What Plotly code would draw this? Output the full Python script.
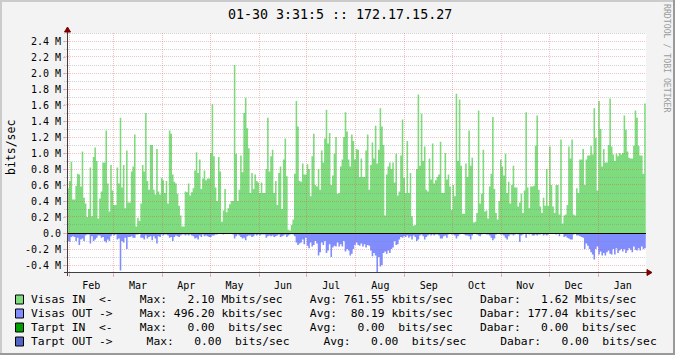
import pandas as pd
import plotly.graph_objects as go

# ---------------- data ----------------
TITLE = "01-30 3:31:5 :: 172.17.15.27"
WATERMARK = "RRDTOOL / TOBI OETIKER"
Y_AXIS_LABEL = "bits/sec"
FIRST_DAY = "2015-01-31"
X_RANGE = ["2015-01-30 17:30", "2016-01-31 03:30"]
Y_RANGE_M = [-0.5, 2.5]

# daily averages, Mbit/s
VISAS_IN_M = [
    0.56, 0.65, 0.89, 0.42, 0.42, 0.59, 0.74, 0.73, 0.58, 1.02,
    0.44, 0.37, 0.20, 0.30, 0.82, 0.21, 0.95, 1.07, 0.90, 0.18,
    0.43, 0.52, 0.88, 0.88, 1.28, 0.62, 0.27, 0.85, 0.53, 0.35,
    0.35, 0.82, 0.62, 1.44, 0.57, 0.85, 0.31, 1.03, 0.38, 0.38,
    0.77, 0.83, 1.23, 0.08, 0.19, 0.15, 0.37, 0.85, 0.77, 1.50,
    0.65, 0.54, 1.10, 1.10, 0.54, 0.48, 1.05, 0.52, 0.48, 0.69,
    0.66, 0.50, 0.65, 0.37, 1.28, 1.24, 0.73, 0.64, 0.62, 0.49,
    0.34, 0.22, 0.08, 0.08,
    0.52, 0.51, 0.62, 0.47, 0.51, 0.56, 0.78, 1.01, 0.75, 0.92,
    0.55, 0.68, 0.78, 0.66, 0.68, 0.68, 1.00, 1.61, 0.96, 0.57,
    0.40, 0.95, 0.77, 0.14, 0.28, 0.55, 0.26, 0.31, 0.36, 0.40,
    0.40, 2.10, 0.99, 0.40, 0.54, 0.97, 0.76, 1.50, 1.69, 1.31,
    1.06, 0.50, 0.75, 0.55, 0.73, 0.65, 0.63, 0.50, 0.63, 0.50,
    0.50, 0.80, 1.44, 0.77, 0.96, 1.04, 0.50, 0.65, 0.35, 0.75,
    0.83, 0.30, 0.92, 1.18, 0.71, 0.04, 0.03, 0.10, 0.17, 0.74,
    1.65, 1.33, 0.65,
    0.64, 0.87, 0.73, 0.73, 0.86, 0.80, 0.46, 0.96, 1.24, 0.60,
    0.58, 0.80, 0.54, 1.03, 0.88, 1.18, 1.54, 1.12, 1.25, 0.60,
    0.72, 0.99, 1.20, 0.49, 0.50, 0.83, 0.92, 1.20, 1.51, 1.27,
    0.92, 0.83, 1.23, 1.15, 0.92, 1.05, 1.04, 0.70, 0.93, 0.70,
    0.70, 1.03, 1.23, 0.54, 0.85, 1.13, 0.93, 1.34, 0.87, 1.04,
    1.56, 1.33, 1.10, 0.22, 0.73, 0.83, 0.88, 0.80, 0.88, 0.63,
    0.99, 0.47, 0.52, 0.97, 1.42, 0.69, 0.50, 1.15, 0.50, 0.75,
    0.21, 0.09, 0.10,
    0.80, 1.73, 0.84, 1.49, 0.90, 1.08, 0.54, 0.52, 0.93, 0.67,
    1.12, 0.62, 0.66, 0.70, 0.73, 1.14, 0.50, 0.50, 1.00, 0.67,
    0.73, 0.58, 0.29, 0.60, 0.46, 1.74, 0.90, 1.67, 0.84, 0.24,
    0.24, 0.87, 0.70, 1.28, 0.84, 0.94, 0.13, 0.14, 0.25, 1.53,
    0.37, 0.49, 1.04, 0.27, 0.28, 0.18, 0.58, 0.74, 1.45, 0.55,
    0.25, 0.17, 0.40, 0.92, 0.83, 0.72, 0.99, 0.50, 0.64, 0.37,
    0.60, 0.84, 0.57, 0.57, 0.33, 0.38, 0.49, 0.25, 0.53, 1.51,
    0.57, 0.31, 0.58,
    0.58, 0.59, 1.09, 1.47, 0.54, 0.33, 0.25, 0.44, 0.34, 0.80,
    0.34, 1.08, 0.60, 0.33, 0.25, 0.60, 0.60, 0.23, 1.17, 0.12,
    0.22, 0.23, 0.35, 1.08, 0.93, 1.17, 0.23, 0.22, 0.56, 0.50,
    0.92, 0.92, 1.05, 0.60, 0.92, 0.97, 0.97, 1.09, 0.98, 1.56,
    1.19, 0.53, 1.65, 1.30, 0.83, 1.05, 0.88, 0.88, 1.10, 1.68,
    1.08, 0.98, 0.90, 0.99, 0.96, 1.00, 0.98, 1.00, 1.47, 1.29,
    1.02, 0.94, 0.93, 0.93, 1.09, 1.53, 1.44, 1.09, 0.97, 0.97,
    0.74, 1.62,
]

VISAS_OUT_M = [
    0.10, 0.11, 0.05, 0.04, 0.05, 0.10, 0.06, 0.15, 0.08, 0.07,
    0.10, 0.03, 0.02, 0.02, 0.13, 0.04, 0.10, 0.08, 0.06, 0.03,
    0.03, 0.06, 0.05, 0.10, 0.12, 0.08, 0.10, 0.04, 0.02, 0.03,
    0.02, 0.08, 0.07, 0.47, 0.10, 0.12, 0.06, 0.20, 0.05, 0.05,
    0.04, 0.06, 0.06, 0.02, 0.02, 0.01, 0.06, 0.06, 0.08, 0.03,
    0.07, 0.05, 0.04, 0.09, 0.04, 0.07, 0.13, 0.04, 0.05, 0.02,
    0.03, 0.02, 0.02, 0.03, 0.06, 0.05, 0.10, 0.05, 0.03, 0.04,
    0.05, 0.03, 0.02, 0.02,
    0.03, 0.02, 0.03, 0.02, 0.03, 0.04, 0.07, 0.06, 0.08, 0.03,
    0.05, 0.02, 0.04, 0.03, 0.04, 0.05, 0.05, 0.03, 0.03, 0.02,
    0.02, 0.01, 0.01, 0.00, 0.02, 0.01, 0.01, 0.01, 0.01, 0.01,
    0.02, 0.07, 0.04, 0.02, 0.03, 0.05, 0.07, 0.06, 0.09, 0.04,
    0.03, 0.03, 0.05, 0.04, 0.02, 0.03, 0.02, 0.03, 0.02, 0.02,
    0.02, 0.06, 0.04, 0.03, 0.04, 0.03, 0.05, 0.04, 0.03, 0.02,
    0.05, 0.04, 0.03, 0.02, 0.05, 0.03, 0.02, 0.01, 0.02, 0.04,
    0.12, 0.15, 0.13,
    0.12, 0.08, 0.14, 0.06, 0.16, 0.19, 0.12, 0.17, 0.15, 0.10,
    0.13, 0.28, 0.24, 0.12, 0.15, 0.10, 0.25, 0.22, 0.14, 0.30,
    0.18, 0.16, 0.17, 0.12, 0.17, 0.14, 0.17, 0.10, 0.23, 0.20,
    0.22, 0.28, 0.26, 0.20, 0.15, 0.12, 0.15, 0.16, 0.13, 0.17,
    0.14, 0.18, 0.15, 0.16, 0.22, 0.29, 0.25, 0.28, 0.50, 0.30,
    0.42, 0.40, 0.25, 0.23, 0.26, 0.22, 0.25, 0.20, 0.18, 0.10,
    0.15, 0.14, 0.08, 0.05, 0.06, 0.04, 0.05, 0.03, 0.06, 0.04,
    0.08, 0.03, 0.05,
    0.10, 0.08, 0.03, 0.02, 0.04, 0.08, 0.05, 0.03, 0.02, 0.03,
    0.02, 0.03, 0.02, 0.02, 0.03, 0.07, 0.07, 0.04, 0.03, 0.06,
    0.02, 0.01, 0.02, 0.02, 0.03, 0.07, 0.04, 0.02, 0.01, 0.01,
    0.02, 0.03, 0.03, 0.04, 0.08, 0.03, 0.01, 0.01, 0.02, 0.03,
    0.04, 0.02, 0.01, 0.01, 0.02, 0.02, 0.03, 0.06, 0.09, 0.07,
    0.02, 0.01, 0.01, 0.02, 0.02, 0.03, 0.06, 0.08, 0.04, 0.02,
    0.02, 0.03, 0.02, 0.01, 0.02, 0.11, 0.03, 0.02, 0.01, 0.06,
    0.01, 0.02, 0.01,
    0.03, 0.03, 0.02, 0.03, 0.02, 0.02, 0.01, 0.03, 0.02, 0.03,
    0.02, 0.01, 0.01, 0.01, 0.01, 0.02, 0.01, 0.04, 0.01, 0.01,
    0.05, 0.04, 0.06, 0.07, 0.08, 0.08, 0.02, 0.01, 0.03, 0.03,
    0.04, 0.05, 0.06, 0.20, 0.13, 0.16, 0.20, 0.24, 0.27, 0.33,
    0.20, 0.17, 0.27, 0.23, 0.28, 0.25, 0.28, 0.24, 0.22, 0.26,
    0.27, 0.20, 0.27, 0.19, 0.25, 0.22, 0.20, 0.23, 0.20, 0.25,
    0.22, 0.19, 0.21, 0.24, 0.17, 0.21, 0.22, 0.19, 0.22, 0.17,
    0.20, 0.19,
]

Y_TICK_VALUES_M = [-0.4, -0.2, 0.0, 0.2, 0.4, 0.6, 0.8, 1.0, 1.2, 1.4, 1.6, 1.8, 2.0, 2.2, 2.4]
Y_TICK_LABELS = ["-0.4 M", "-0.2 M", "0.0", "0.2 M", "0.4 M", "0.6 M", "0.8 M", "1.0 M",
                 "1.2 M", "1.4 M", "1.6 M", "1.8 M", "2.0 M", "2.2 M", "2.4 M"]
Y_MINOR_VALUES_M = [-0.5, -0.3, -0.1, 0.1, 0.3, 0.5, 0.7, 0.9, 1.1, 1.3, 1.5, 1.7, 1.9, 2.1, 2.3, 2.5]
MONTH_STARTS = ["2015-02-01", "2015-03-01", "2015-04-01", "2015-05-01", "2015-06-01", "2015-07-01",
                "2015-08-01", "2015-09-01", "2015-10-01", "2015-11-01", "2015-12-01", "2016-01-01"]

LEGEND_NAMES = ["Visas IN  <-", "Visas OUT ->", "Tarpt IN  <-", "Tarpt OUT ->"]
LEGEND_STATS = [
    "    Max:   2.10 Mbits/sec    Avg: 761.55 kbits/sec    Dabar:   1.62 Mbits/sec",
    "    Max: 496.20 kbits/sec    Avg:  80.19 kbits/sec    Dabar: 177.04 kbits/sec",
    "    Max:   0.00  bits/sec    Avg:   0.00  bits/sec    Dabar:   0.00  bits/sec",
    "     Max:   0.00  bits/sec     Avg:   0.00  bits/sec     Dabar:   0.00  bits/sec",
]

# ---------------- style ----------------
W, H = 675, 355
ML, MR, MT, MB = 67, 29, 33, 82
PW, PH = W - ML - MR, H - MT - MB
FONT = "DejaVu Sans Mono"
IN_COLOR = "#7edc7e"
OUT_COLOR = "#808dff"
LEGEND_COLORS = [IN_COLOR, OUT_COLOR, "#009f00", "#5366c6"]
MGRID = "rgba(224,80,80,0.36)"
GRID = "rgba(130,130,130,0.36)"
ARROW = "#7f0000"
AXIS = "#404040"
BG = "#f3f3f3"


def pxx(px):
    return (px - ML) / PW


def pyy(py):
    return (MT + PH - py) / PH


t0 = pd.Timestamp(X_RANGE[0])
t1 = pd.Timestamp(X_RANGE[1])
span = (t1 - t0)
m_per_px = (Y_RANGE_M[1] - Y_RANGE_M[0]) / PH


def crisp_y(v_m):
    py = MT + (Y_RANGE_M[1] - v_m) / m_per_px
    target = int(py) + 0.5
    return (Y_RANGE_M[1] - (target - MT) * m_per_px) * 1e6


def crisp_x(ts):
    px = (pd.Timestamp(ts) - t0) / span * PW
    target = int(px) + 0.5
    return t0 + span * (target / PW)


n = len(VISAS_IN_M)
edges = pd.date_range(FIRST_DAY, periods=n + 1, freq="D")
in_y = [v * 1e6 for v in VISAS_IN_M] + [VISAS_IN_M[-1] * 1e6]
out_y = [-v * 1e6 for v in VISAS_OUT_M] + [-VISAS_OUT_M[-1] * 1e6]

fig = go.Figure()
fig.add_trace(go.Scatter(x=edges, y=in_y, mode="lines", line=dict(width=0, shape="hv"),
                         fill="tozeroy", fillcolor=IN_COLOR, hoverinfo="skip", showlegend=False))
fig.add_trace(go.Scatter(x=edges, y=out_y, mode="lines", line=dict(width=0, shape="hv"),
                         fill="tozeroy", fillcolor=OUT_COLOR, hoverinfo="skip", showlegend=False))

shapes = []
# outer frame (3D shade)
shapes.append(dict(type="line", xref="paper", yref="paper", x0=pxx(0), x1=pxx(W), y0=pyy(1), y1=pyy(1),
                   line=dict(color="#cbcbcb", width=2)))
shapes.append(dict(type="line", xref="paper", yref="paper", x0=pxx(1), x1=pxx(1), y0=pyy(0), y1=pyy(H),
                   line=dict(color="#cbcbcb", width=2)))
shapes.append(dict(type="line", xref="paper", yref="paper", x0=pxx(0), x1=pxx(W), y0=pyy(H - 1), y1=pyy(H - 1),
                   line=dict(color="#999999", width=2)))
shapes.append(dict(type="line", xref="paper", yref="paper", x0=pxx(W - 1), x1=pxx(W - 1), y0=pyy(0), y1=pyy(H),
                   line=dict(color="#999999", width=2)))

# grid lines (drawn above the areas like rrdtool)
for v in Y_MINOR_VALUES_M:
    yv = crisp_y(v)
    shapes.append(dict(type="line", xref="paper", yref="y", x0=pxx(ML - 3), x1=1, y0=yv, y1=yv, layer="above",
                       line=dict(color=GRID, width=1, dash="1px,1px")))
for v in Y_TICK_VALUES_M:
    yv = crisp_y(v)
    shapes.append(dict(type="line", xref="paper", yref="y", x0=pxx(ML - 3), x1=1, y0=yv, y1=yv, layer="above",
                       line=dict(color=MGRID, width=1, dash="1px,1px")))
for m in MONTH_STARTS:
    xv = crisp_x(m)
    shapes.append(dict(type="line", xref="x", yref="paper", x0=xv, x1=xv, y0=pyy(MT + PH + 3), y1=1,
                       layer="above", line=dict(color=MGRID, width=1, dash="1px,1px")))

# zero line
z = crisp_y(0.0)
shapes.append(dict(type="line", xref="paper", yref="y", x0=0, x1=1, y0=z, y1=z, layer="above",
                   line=dict(color="#000000", width=1)))

# axes with arrows
xa = pxx(ML + 0.5)
shapes.append(dict(type="line", xref="paper", yref="paper", x0=xa, x1=xa, y0=pyy(MT + PH + 3), y1=pyy(MT - 4),
                   layer="above", line=dict(color=AXIS, width=1)))
yb = pyy(MT + PH - 0.5)
shapes.append(dict(type="line", xref="paper", yref="paper", x0=pxx(ML - 3), x1=pxx(ML + PW + 4), y0=yb, y1=yb,
                   layer="above", line=dict(color=AXIS, width=1)))
shapes.append(dict(type="path", xref="paper", yref="paper", layer="above",
                   path=f"M {pxx(ML - 2.5)},{pyy(MT - 1)} L {pxx(ML + 3.5)},{pyy(MT - 1)} L {xa},{pyy(MT - 6)} Z",
                   fillcolor=ARROW, line=dict(color=ARROW, width=1)))
shapes.append(dict(type="path", xref="paper", yref="paper", layer="above",
                   path=f"M {pxx(ML + PW + 1)},{pyy(MT + PH - 3.5)} L {pxx(ML + PW + 1)},{pyy(MT + PH + 2.5)} "
                        f"L {pxx(ML + PW + 6)},{yb} Z",
                   fillcolor=ARROW, line=dict(color=ARROW, width=1)))

annotations = []
# legend
for i, (name, stats, col) in enumerate(zip(LEGEND_NAMES, LEGEND_STATS, LEGEND_COLORS)):
    cy = 299.5 + 14 * i
    shapes.append(dict(type="rect", xref="paper", yref="paper", x0=pxx(15.5), x1=pxx(23.5),
                       y0=pyy(cy + 4.5), y1=pyy(cy - 4.5), fillcolor=col, line=dict(color="#000000", width=1)))
    annotations.append(dict(xref="paper", yref="paper", x=pxx(29), y=pyy(cy), xanchor="left", yanchor="middle",
                            showarrow=False, text=(name + stats).replace(" ", "\u00a0"),
                            font=dict(family=FONT, size=11.3, color="#000000")))

annotations.append(dict(xref="paper", yref="paper", x=pxx(340), y=pyy(14), xanchor="center", yanchor="middle",
                        showarrow=False, text=TITLE, font=dict(family=FONT, size=13.3, color="#000000")))
annotations.append(dict(xref="paper", yref="paper", x=pxx(11), y=pyy(148), xanchor="center", yanchor="middle",
                        showarrow=False, text=Y_AXIS_LABEL, textangle=-90,
                        font=dict(family=FONT, size=11.5, color="#000000")))
annotations.append(dict(xref="paper", yref="paper", x=pxx(667), y=pyy(58), xanchor="center", yanchor="middle",
                        showarrow=False, text=WATERMARK.replace(" ", "\u00a0"), textangle=90,
                        font=dict(family=FONT, size=8.2, color="#9c9c9c")))

fig.update_layout(
    width=W, height=H, autosize=False,
    margin=dict(l=ML, r=MR, t=MT, b=MB, pad=0),
    paper_bgcolor=BG, plot_bgcolor="#ffffff",
    showlegend=False,
    shapes=shapes, annotations=annotations,
    xaxis=dict(type="date", range=X_RANGE, showgrid=False, zeroline=False, showline=False,
               dtick="M1", tick0="2015-02-01", ticklabelmode="period", tickformat="%b",
               ticks="outside", ticklen=3, tickcolor=MGRID, automargin=False,
               tickfont=dict(family=FONT, size=10, color="#000000")),
    yaxis=dict(range=[v * 1e6 for v in Y_RANGE_M], showgrid=False, zeroline=False, showline=False,
               tickmode="array", tickvals=[v * 1e6 for v in Y_TICK_VALUES_M], ticktext=Y_TICK_LABELS,
               ticks="outside", ticklen=3, tickcolor=MGRID, automargin=False,
               tickfont=dict(family=FONT, size=10, color="#000000")),
)

fig.write_html("out.html")
